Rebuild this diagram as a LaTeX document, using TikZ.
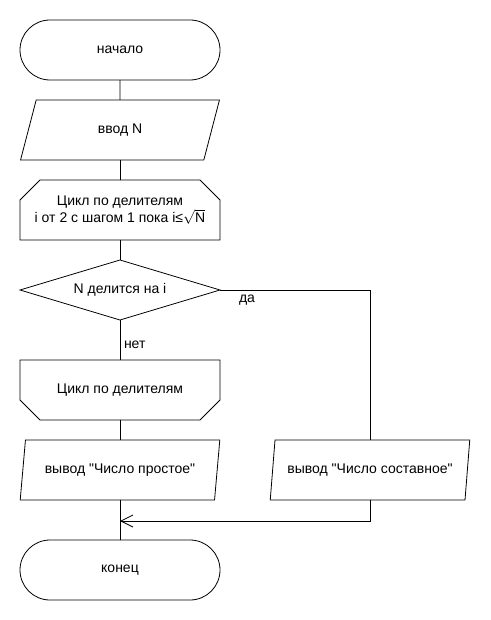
\documentclass[tikz,border=0pt]{standalone}
\usepackage{fontspec}
\setmainfont{Liberation Sans}
\usetikzlibrary{shapes.geometric, shapes.misc, arrows.meta}

\begin{document}
\begin{tikzpicture}[
        x=1pt, y=-1pt,
        font=\fontsize{14}{15.5}\selectfont,
        line width=0.8pt,
        every node/.style={inner sep=0pt, outer sep=0pt},
        term/.style={rounded rectangle, draw, minimum width=200pt, minimum height=60pt},
        io/.style={trapezium, draw, trapezium left angle=71.565, trapezium right angle=108.435,
                   trapezium stretches=true, minimum width=200pt, minimum height=60pt},
        loopbox/.style={rectangle, minimum width=200pt, minimum height=60pt, align=center},
        cond/.style={diamond, draw, aspect=3.333, minimum width=200pt, minimum height=60pt},
        arrow/.style={-{Straight Barb[length=12pt, width=12pt]}}
      ]
      \useasboundingbox (0,0) rectangle (490,620);

      % Start and input
      \node[term] (start) at (120,50) {начало};
      \node[io] (input) at (120,130) {ввод N};

      % Loop over divisors
      \node[loopbox] (loopbeg) at (120,210)
        {Цикл по делителям\\i от 2 с шагом 1 пока i≤$\sqrt{\mathrm{N}}$};
      \draw ([yshift=-20pt]loopbeg.north west) -- ([xshift=20pt]loopbeg.north west)
        -- ([xshift=-20pt]loopbeg.north east) -- ([yshift=-20pt]loopbeg.north east)
        -- (loopbeg.south east) -- (loopbeg.south west) -- cycle;
      \node[cond] (check) at (120,290) {N делится на i};
      \node[loopbox] (loopend) at (120,390) {Цикл по делителям};
      \draw (loopend.north west) -- (loopend.north east)
        -- ([yshift=20pt]loopend.south east) -- ([xshift=-20pt]loopend.south east)
        -- ([xshift=20pt]loopend.south west) -- ([yshift=20pt]loopend.south west) -- cycle;

      % Outputs
      \node[io] (prime) at (120,470) {вывод \textquotedbl Число простое\textquotedbl};
      \node[io] (composite) at (370,470) {вывод \textquotedbl Число составное\textquotedbl};

      % End
      \node[term] (stop) at (120,570) {конец};

      \coordinate (yescorner) at (370,290);
      \coordinate (joinright) at (370,521);
      \coordinate (join) at (120,521);

      % Main flow
      \draw (start) -- (input);
      \draw (input) -- (loopbeg);
      \draw (loopbeg) -- (check);
      \draw (check) -- node[pos=0.63, right=4pt] {нет} (loopend);
      \draw (loopend) -- (prime);
      \draw (prime) -- (stop);

      % Yes branch
      \draw (check.east) -- node[pos=0.18, below=5pt] {да} (yescorner) -- (composite);
      \draw[arrow] (composite) -- (joinright) -- (join);
    \end{tikzpicture}
\end{document}
